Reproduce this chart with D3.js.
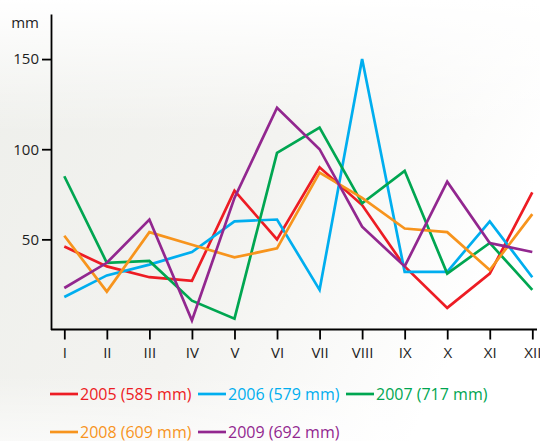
<!DOCTYPE html>
<html lang="en">
<head>
<meta charset="utf-8">
<title>Monthly rainfall 2005-2009</title>
<style>
html, body {
  margin: 0;
  padding: 0;
}
body {
  width: 540px;
  height: 441px;
  overflow: hidden;
}
.axis text {
  font: 15px "Open Sans", sans-serif;
  fill: #1e1e1e;
}
.axis path, .axis line {
  stroke: #000;
  stroke-width: 1.8px;
}
.legend text {
  font: 16px "Open Sans", sans-serif;
}
</style>
</head>
<body>
<div id="chart"></div>
<script src="https://d3js.org/d3.v7.min.js"></script>
<script>
// months (roman numerals) on the x axis
var months = ['I', 'II', 'III', 'IV', 'V', 'VI', 'VII', 'VIII', 'IX', 'X', 'XI', 'XII'];
var yTicks = [50, 100, 150];

// monthly precipitation, mm
var rain2005 = [46, 35, 29, 27, 77, 50, 90, 69, 35, 12, 31, 76];
var rain2006 = [18, 30, 36, 43, 60, 61, 22, 150, 32, 32, 60, 29];
var rain2007 = [85, 37, 38, 16, 6, 98, 112, 70, 88, 31, 48, 22];
var rain2008 = [52, 21, 54, 47, 40, 45, 87, 73, 56, 54, 33, 64];
var rain2009 = [23, 37, 61, 5, 73, 123, 100, 57, 35, 82, 48, 43];

var years = ['2005 (585 mm)', '2006 (579 mm)', '2007 (717 mm)', '2008 (609 mm)', '2009 (692 mm)'];
var colors = ['#ed1c24', '#00aeef', '#00a651', '#f7941d', '#92278f'];
var series = [rain2005, rain2006, rain2007, rain2008, rain2009];

var width = 540, height = 441;

var svg = d3.select('#chart')
  .append('svg')
  .attr('width', width)
  .attr('height', height);

// soft grey background wash
var defs = svg.append('defs');
var grad = defs.append('linearGradient')
  .attr('id', 'bg')
  .attr('x1', '0').attr('y1', '0')
  .attr('x2', '1').attr('y2', '0.4');
grad.append('stop').attr('offset', '0%').attr('stop-color', '#eeefeb');
grad.append('stop').attr('offset', '55%').attr('stop-color', '#f3f3f0');
grad.append('stop').attr('offset', '100%').attr('stop-color', '#ffffff');
var fade = defs.append('linearGradient')
  .attr('id', 'fade')
  .attr('x1', '0').attr('y1', '0')
  .attr('x2', '0').attr('y2', '1');
fade.append('stop').attr('offset', '0%').attr('stop-color', '#fff').attr('stop-opacity', 1);
fade.append('stop').attr('offset', '30%').attr('stop-color', '#fff').attr('stop-opacity', 0);
fade.append('stop').attr('offset', '85%').attr('stop-color', '#fff').attr('stop-opacity', 0);
fade.append('stop').attr('offset', '100%').attr('stop-color', '#fff').attr('stop-opacity', 0.6);

svg.append('rect').attr('width', width).attr('height', height).attr('fill', 'url(#bg)');
svg.append('rect').attr('width', width).attr('height', height).attr('fill', 'url(#fade)');

var x = d3.scalePoint()
  .domain(months)
  .range([64.3, 532.3]);

var y = d3.scaleLinear()
  .domain([0, 175])
  .range([329.5, 14]);

var axisLeftX = 51;

// y axis
svg.append('g')
  .attr('class', 'axis')
  .attr('transform', 'translate(' + axisLeftX + ',0)')
  .call(d3.axisLeft(y).tickValues(yTicks).tickSize(9).tickSizeOuter(0).tickPadding(3));

svg.append('text')
  .attr('x', 39)
  .attr('y', 28)
  .attr('text-anchor', 'end')
  .style('font', '15px "Open Sans", sans-serif')
  .style('fill', '#1e1e1e')
  .text('mm');

// x axis, the base line runs from the y axis to the right edge
var xAxis = svg.append('g')
  .attr('class', 'axis')
  .attr('transform', 'translate(0,' + y(0) + ')')
  .call(d3.axisBottom(x).tickSize(10).tickPadding(8));
xAxis.select('.domain').remove();
xAxis.append('line')
  .attr('x1', axisLeftX).attr('x2', 537)
  .attr('y1', 0).attr('y2', 0);

// lines
var line = d3.line()
  .x(function(d, i) { return x(months[i]); })
  .y(function(d) { return y(d); });

svg.selectAll('path.series')
  .data(series)
  .enter()
  .append('path')
  .attr('class', 'series')
  .attr('d', line)
  .attr('fill', 'none')
  .attr('stroke', function(d, i) { return colors[i]; })
  .attr('stroke-width', 2.7)
  .attr('stroke-linejoin', 'miter');

// legend, three per row
var legend = svg.append('g').attr('class', 'legend');
var item = legend.selectAll('g')
  .data(years)
  .enter()
  .append('g')
  .attr('transform', function(d, i) {
    return 'translate(' + (50 + (i % 3) * 148) + ',' + (394 + Math.floor(i / 3) * 38) + ')';
  });
item.append('line')
  .attr('x1', 0).attr('x2', 28)
  .attr('y1', 0).attr('y2', 0)
  .attr('stroke', function(d, i) { return colors[i]; })
  .attr('stroke-width', 2.7);
item.append('text')
  .attr('x', 30)
  .attr('y', 6)
  .attr('fill', function(d, i) { return colors[i]; })
  .text(function(d) { return d; });
</script>
</body>
</html>
